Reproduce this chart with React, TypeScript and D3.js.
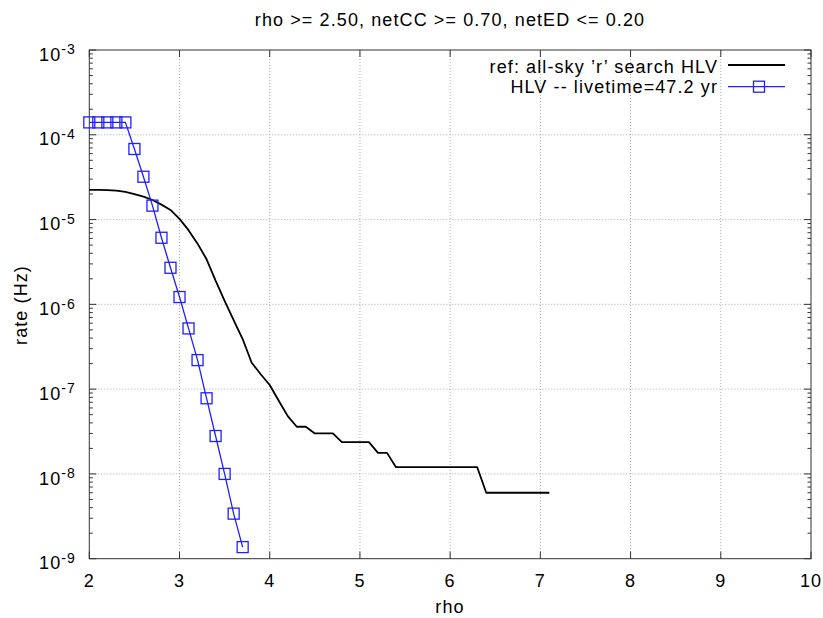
import React from "react";
import * as d3 from "d3";

const W = 823;
const H = 618;

const titleText = "rho >= 2.50, netCC >= 0.70, netED <= 0.20";
const xLabel = "rho";
const yLabel = "rate (Hz)";
const xTicks = [2, 3, 4, 5, 6, 7, 8, 9, 10];
const yExponents = [-3, -4, -5, -6, -7, -8, -9];

const refName = "ref: all-sky \u2019r\u2019 search HLV";
const refX = [2.0, 2.1, 2.2, 2.3, 2.4, 2.5, 2.6, 2.7, 2.8, 2.9, 3.0, 3.1, 3.2, 3.3, 3.4, 3.5, 3.6, 3.7, 3.8, 3.9, 4.0, 4.1, 4.2, 4.3, 4.4, 4.5, 4.6, 4.7, 4.8, 4.9, 5.0, 5.1, 5.2, 5.3, 5.4, 5.5, 5.6, 5.7, 5.8, 5.9, 6.0, 6.1, 6.2, 6.3, 6.4, 6.5, 6.6, 6.7, 6.8, 6.9, 7.0, 7.1];
const refY = [2.24e-5, 2.24e-5, 2.22e-5, 2.2e-5, 2.12e-5, 2.0e-5, 1.86e-5, 1.7e-5, 1.5e-5, 1.3e-5, 1.02e-5, 7.5e-6, 5.2e-6, 3.4e-6, 1.9e-6, 1.1e-6, 6.5e-7, 3.9e-7, 2.05e-7, 1.5e-7, 1.12e-7, 7.3e-8, 4.8e-8, 3.6e-8, 3.6e-8, 3.0e-8, 3.0e-8, 3.0e-8, 2.37e-8, 2.37e-8, 2.37e-8, 2.37e-8, 1.77e-8, 1.77e-8, 1.2e-8, 1.2e-8, 1.2e-8, 1.2e-8, 1.2e-8, 1.2e-8, 1.2e-8, 1.2e-8, 1.2e-8, 1.2e-8, 6.0e-9, 6.0e-9, 6.0e-9, 6.0e-9, 6.0e-9, 6.0e-9, 6.0e-9, 6.0e-9];

const hlvName = "HLV -- livetime=47.2 yr";
const hlvX = [2.0, 2.1, 2.2, 2.3, 2.4, 2.5, 2.6, 2.7, 2.8, 2.9, 3.0, 3.1, 3.2, 3.3, 3.4, 3.5, 3.6, 3.7];
const hlvY = [1.4e-4, 1.4e-4, 1.4e-4, 1.4e-4, 1.4e-4, 6.8e-5, 3.2e-5, 1.46e-5, 6.1e-6, 2.7e-6, 1.22e-6, 5.2e-7, 2.2e-7, 7.8e-8, 2.8e-8, 1.0e-8, 3.4e-9, 1.37e-9];

const FONT = "'Liberation Sans', Arial, Helvetica, sans-serif";
const LS = "1.1px";

export default function App() {
  const left = 89.3, right = 811, top = 50, bottom = 558.7;
  const x = d3.scaleLinear().domain([2, 10]).range([left, right]);
  const y = d3.scaleLog().domain([1e-9, 1e-3]).range([bottom, top]);

  const refPts: [number, number][] = refX.map((v, i) => [v, refY[i]]);
  const hlvPts: [number, number][] = hlvX.map((v, i) => [v, hlvY[i]]);
  const line = d3.line<[number, number]>().x(d => x(d[0])).y(d => y(d[1]));

  const minor: number[] = [];
  for (let e = -9; e < -3; e++) {
    for (let m = 2; m <= 9; m++) minor.push(m * Math.pow(10, e));
  }

  const blue = "#2020ff";
  const sq = 11;
  const gridColor = "#aaaaaa";
  const axisColor = "#333333";

  return (
    <svg width={W} height={H} style={{ position: "absolute", left: 0, top: 0, background: "#fff" }} fontFamily={FONT}>
      <rect x={0} y={0} width={W} height={H} fill="#fff" />
      {/* grid */}
      {xTicks.slice(1, -1).map(t => (
        <line key={"gx" + t} x1={x(t)} x2={x(t)} y1={top} y2={bottom} stroke={gridColor} strokeWidth={1} strokeDasharray="1,2" />
      ))}
      {yExponents.slice(1, -1).map(e => (
        <line key={"gy" + e} x1={left} x2={right} y1={y(Math.pow(10, e))} y2={y(Math.pow(10, e))} stroke={gridColor} strokeWidth={1} strokeDasharray="1,2" />
      ))}
      {/* ticks */}
      {xTicks.map(t => (
        <g key={"tx" + t}>
          <line x1={x(t)} x2={x(t)} y1={bottom} y2={bottom - 7} stroke={axisColor} />
          <line x1={x(t)} x2={x(t)} y1={top} y2={top + 7} stroke={axisColor} />
          <text x={x(t)} y={586.7} textAnchor="middle" fontSize={18} letterSpacing={LS} fill="#000">{t}</text>
        </g>
      ))}
      {yExponents.map(e => {
        const yy = y(Math.pow(10, e));
        return (
          <g key={"ty" + e}>
            <line x1={left} x2={left + 7} y1={yy} y2={yy} stroke={axisColor} />
            <line x1={right} x2={right - 7} y1={yy} y2={yy} stroke={axisColor} />
            <text x={76} y={yy + 10.7} textAnchor="end" fontSize={18} letterSpacing={LS} fill="#000">
              10<tspan dy={-6.5} fontSize={14}>{e}</tspan>
            </text>
          </g>
        );
      })}
      {minor.map((v, i) => (
        <g key={"my" + i}>
          <line x1={left} x2={left + 3.5} y1={y(v)} y2={y(v)} stroke={axisColor} />
          <line x1={right} x2={right - 3.5} y1={y(v)} y2={y(v)} stroke={axisColor} />
        </g>
      ))}
      {/* border */}
      <rect x={left} y={top} width={right - left} height={bottom - top} fill="none" stroke={axisColor} strokeWidth={1} />

      {/* series */}
      <path d={line(refPts) || ""} fill="none" stroke="#000" strokeWidth={1.8} strokeLinejoin="round" />
      <path d={line(hlvPts) || ""} fill="none" stroke={blue} strokeWidth={1.3} />
      {hlvPts.map((d, i) => (
        <rect key={"sq" + i} x={x(d[0]) - sq / 2} y={y(d[1]) - sq / 2} width={sq} height={sq} fill="none" stroke={blue} strokeWidth={1.3} />
      ))}

      {/* legend */}
      <text x={718} y={72.5} textAnchor="end" fontSize={18} letterSpacing={LS} fill="#000">{refName}</text>
      <line x1={728} x2={785} y1={65} y2={65} stroke="#000" strokeWidth={1.8} />
      <text x={718} y={93} textAnchor="end" fontSize={18} letterSpacing={LS} fill="#000">{hlvName}</text>
      <line x1={728} x2={785} y1={86.7} y2={86.7} stroke={blue} strokeWidth={1.3} />
      <rect x={759 - sq / 2} y={86.7 - sq / 2} width={sq} height={sq} fill="none" stroke={blue} strokeWidth={1.3} />

      {/* titles */}
      <text x={450} y={26} textAnchor="middle" fontSize={18} letterSpacing={LS} fill="#000">{titleText}</text>
      <text x={450} y={613} textAnchor="middle" fontSize={18} letterSpacing={LS} fill="#000">{xLabel}</text>
      <text transform={`translate(27,305) rotate(-90)`} textAnchor="middle" fontSize={18} letterSpacing={LS} fill="#000">{yLabel}</text>
    </svg>
  );
}
